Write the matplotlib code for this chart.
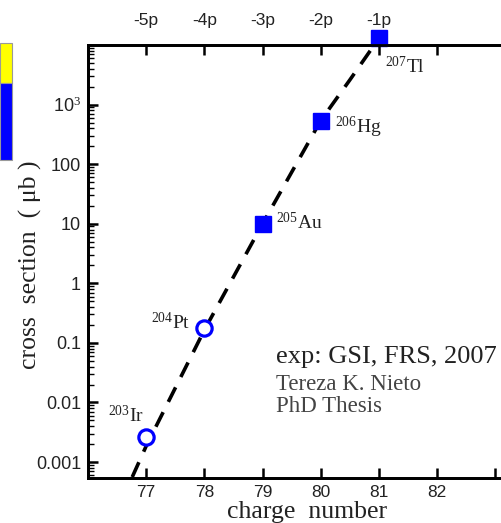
import matplotlib
matplotlib.use("Agg")
import matplotlib.pyplot as plt
from matplotlib.patches import Rectangle
from matplotlib.ticker import FixedLocator, LogLocator, NullFormatter

# ---- data ----
charge_meas = [77, 78, 79, 80, 81]
sigma_meas = [0.0026, 0.18, 10.0, 540.0, 13000.0]
isotopes = ["203", "204", "205", "206", "207"]
elements = ["Ir", "Pt", "Au", "Hg", "Tl"]
open_marker = [True, True, False, False, False]

curve_charge = [76.76, 77.0, 78.0, 79.0, 80.0, 80.5, 81.0]
curve_sigma = [5.6e-4, 1.86e-3, 0.165, 10.0, 540.0, 2600.0, 13000.0]

bottom_ticks = [77, 78, 79, 80, 81, 82, 83]
bottom_labels = ["77", "78", "79", "80", "81", "82", ""]
top_ticks = [77, 78, 79, 80, 81, 82]
top_labels = ["-5p", "-4p", "-3p", "-2p", "-1p", ""]
y_ticks = [0.001, 0.01, 0.1, 1, 10, 100, 1000]
y_labels = ["0.001", "0.01", "0.1", "1", "10", "100", r"10$^3$"]

plt.rcParams["font.family"] = ["Liberation Sans", "DejaVu Sans"]
plt.rcParams["mathtext.fontset"] = "custom"
plt.rcParams["mathtext.rm"] = "Liberation Serif"
plt.rcParams["mathtext.it"] = "Liberation Serif:italic"
plt.rcParams["mathtext.sf"] = "Liberation Sans"

W, H = 502, 523
fig = plt.figure(figsize=(W / 100, H / 100), dpi=100)

left_px, right_px, top_px, bot_px = 88, 88 + 7.3 * 58.2, 45, 478
ax = fig.add_axes([left_px / W, 1 - bot_px / H, (right_px - left_px) / W, (bot_px - top_px) / H])
ax.set_xlim(76, 83.3)
ax.set_yscale("log")
ax.set_ylim(5.4e-4, 1e4)

# curve
ax.plot(curve_charge, curve_sigma, color="black", lw=2.6, ls=(0, (4.5, 3.2)), zorder=2)

# markers
for c, s, o in zip(charge_meas, sigma_meas, open_marker):
    if o:
        ax.plot(c, s, "o", ms=11, mfc="white", mec="#0000ff", mew=2.3, zorder=3, clip_on=False)
    else:
        ax.plot(c, s, "s", ms=11.5, mfc="#0000ff", mec="#0000ff", zorder=3, clip_on=False)

# isotope labels
offsets = {"Ir": (-38, 22, "left"), "Pt": (-14, 5, "right"), "Au": (13, 1, "left"),
           "Hg": (14, -7, "left"), "Tl": (6, -28, "left")}
for c, s, iso, el in zip(charge_meas, sigma_meas, isotopes, elements):
    dx, dy, ha = offsets[el]
    ax.annotate(r"$^{%s}\mathrm{%s}$" % (iso, el), (c, s), xytext=(dx, dy),
                textcoords="offset pixels", ha=ha, va="center", fontsize=14,
                color="#222222", annotation_clip=False)

# ticks
ax.xaxis.set_major_locator(FixedLocator(bottom_ticks))
ax.set_xticklabels(bottom_labels)
ax.yaxis.set_major_locator(FixedLocator(y_ticks))
ax.set_yticklabels(y_labels)
ax.yaxis.set_minor_locator(LogLocator(base=10, subs=range(2, 10), numticks=20))
ax.yaxis.set_minor_formatter(NullFormatter())
ax.tick_params(axis="both", which="major", direction="in", length=7, width=1.8,
               labelsize=13, colors="black", labelcolor="#222222", pad=5)
ax.tick_params(axis="x", which="major", labelsize=12.5, pad=5)
ax.tick_params(axis="y", which="minor", direction="in", length=4, width=1.0)
ax.tick_params(axis="x", which="minor", bottom=False)

for sp in ax.spines.values():
    sp.set_linewidth(2.0)

axt = ax.twiny()
axt.set_xlim(ax.get_xlim())
axt.xaxis.set_major_locator(FixedLocator(top_ticks))
axt.set_xticklabels(top_labels)
axt.tick_params(axis="x", direction="in", length=7, width=1.8, labelsize=12.5,
                labelcolor="#222222", pad=12)
for sp in axt.spines.values():
    sp.set_linewidth(2.0)

fig.text(307 / W, 1 - 518 / H, "charge  number", family="Liberation Serif", fontsize=18.5,
         ha="center", va="baseline", color="#222222")
fig.text(30 / W, 1 - 265 / H, "cross  section  ( μb )", family="Liberation Serif", fontsize=18.5,
         ha="center", va="center", rotation=90, color="#222222")

# text block
fig.text(276 / W, 1 - 357 / H, "exp: GSI, FRS, 2007", family="Liberation Serif",
         fontsize=19, va="center", ha="left", color="#222222")
fig.text(276 / W, 1 - 385 / H, "Tereza K. Nieto", family="Liberation Serif",
         fontsize=16.5, va="center", ha="left", color="#444444")
fig.text(276 / W, 1 - 407 / H, "PhD Thesis", family="Liberation Serif",
         fontsize=16.5, va="center", ha="left", color="#444444")

# clipped legend fragment at the left edge
fig.patches.append(Rectangle((0, 1 - 83 / H), 12 / W, 40 / H, transform=fig.transFigure,
                             facecolor="#ffff00", edgecolor="#999999", lw=0.8))
fig.patches.append(Rectangle((0, 1 - 160 / H), 12 / W, 77 / H, transform=fig.transFigure,
                             facecolor="#0000ff", edgecolor="#999999", lw=0.8))

fig.savefig("out.png", dpi=100)
